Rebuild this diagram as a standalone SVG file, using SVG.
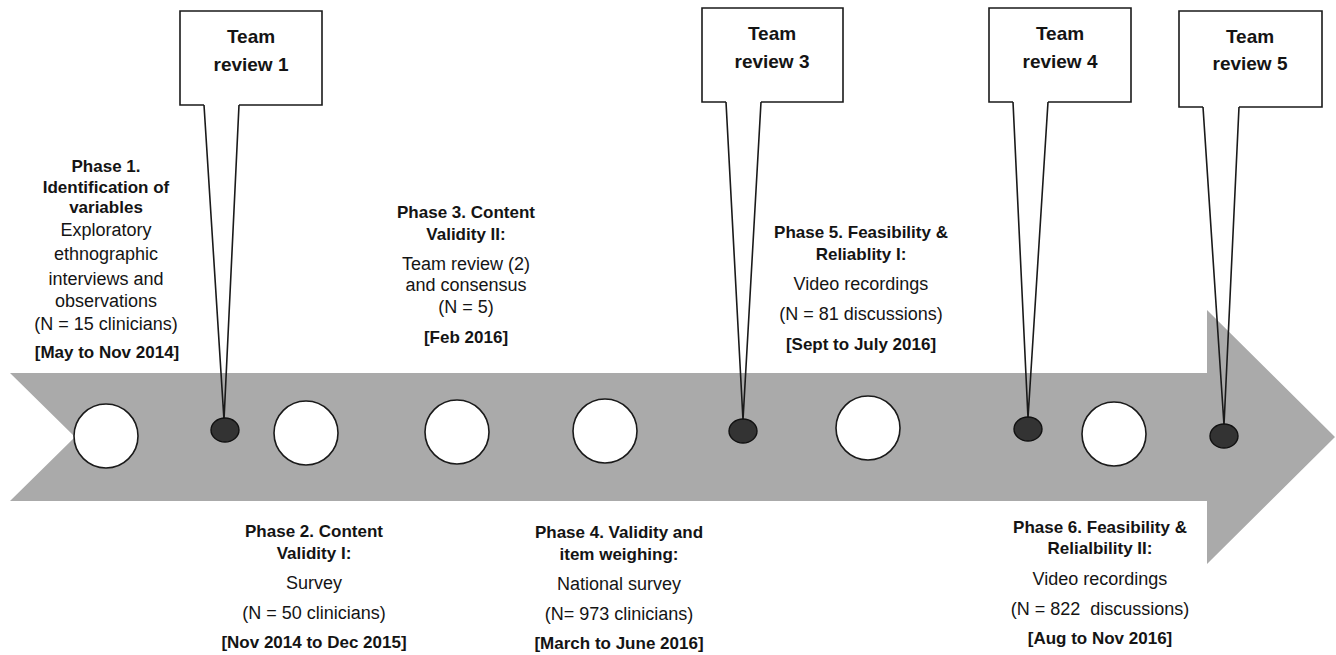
<svg xmlns="http://www.w3.org/2000/svg" width="1336" height="655" viewBox="0 0 1336 655">
<style>
.b{font-family:"Liberation Sans",Arial,sans-serif;font-weight:bold;font-size:17px;fill:#141414;text-anchor:middle}
.r{font-family:"Liberation Sans",Arial,sans-serif;font-size:18px;fill:#141414;text-anchor:middle}
.t{font-family:"Liberation Sans",Arial,sans-serif;font-weight:bold;font-size:19px;fill:#141414;text-anchor:middle}
.box{fill:#fff;stroke:#1a1a1a;stroke-width:1.6}
.tail{fill:none;stroke:#1a1a1a;stroke-width:1.6;stroke-linejoin:miter}
.wc{fill:#fff;stroke:#1a1a1a;stroke-width:1.6}
.dot{fill:#333;stroke:#111;stroke-width:1.4}
</style>
<rect width="1336" height="655" fill="#fff"/>
<g id="timeline-arrow">
<polygon points="10,373 1207,373 1207,310 1335,437 1207,564 1207,501 10,501 75,437" fill="#aaaaaa"/>
</g>
<g id="phase-circles">
<circle cx="106" cy="436" r="32" class="wc"/>
<circle cx="306" cy="433" r="32" class="wc"/>
<circle cx="457" cy="432" r="32" class="wc"/>
<circle cx="605" cy="431" r="32" class="wc"/>
<circle cx="868" cy="428" r="32" class="wc"/>
<circle cx="1114" cy="434" r="32" class="wc"/>
</g>
<g id="connectors">
<polyline class="tail" points="204,105 224,420 239,105"/>
<polyline class="tail" points="726,102 743,420 761,102"/>
<polyline class="tail" points="1013,102 1028,418 1048,102"/>
<polyline class="tail" points="1203,107 1224,425 1239,107"/>
</g>
<g id="team-review-1">
<path class="box" d="M204,105 H180 V11 H322 V105 H239"/>
<text class="t" x="251" y="43">Team</text>
<text class="t" x="251" y="71">review 1</text>
<ellipse class="dot" cx="225" cy="430" rx="14" ry="12"/>
</g>
<g id="team-review-3">
<path class="box" d="M726,102 H702 V8 H843 V102 H761"/>
<text class="t" x="772" y="40">Team</text>
<text class="t" x="772" y="68">review 3</text>
<ellipse class="dot" cx="743" cy="431" rx="14" ry="12"/>
</g>
<g id="team-review-4">
<path class="box" d="M1013,102 H989 V8 H1131 V102 H1048"/>
<text class="t" x="1060" y="40">Team</text>
<text class="t" x="1060" y="68">review 4</text>
<ellipse class="dot" cx="1028" cy="429" rx="14" ry="12"/>
</g>
<g id="team-review-5">
<path class="box" d="M1203,107 H1179 V11 H1322 V107 H1239"/>
<text class="t" x="1250" y="43">Team</text>
<text class="t" x="1250" y="70">review 5</text>
<ellipse class="dot" cx="1224" cy="436" rx="14" ry="12"/>
</g>
<g id="phase-1">
<text class="b" x="106" y="172">Phase 1.</text>
<text class="b" x="106" y="193">Identification of</text>
<text class="b" x="106" y="213">variables</text>
<text class="r" x="106" y="236">Exploratory</text>
<text class="r" x="106" y="260">ethnographic</text>
<text class="r" x="106" y="285">interviews and</text>
<text class="r" x="106" y="307">observations</text>
<text class="r" x="106" y="330">(N = 15 clinicians)</text>
<text class="b" x="107" y="358">[May to Nov 2014]</text>
</g>
<g id="phase-2">
<text class="b" x="314" y="537">Phase 2. Content</text>
<text class="b" x="314" y="559">Validity I:</text>
<text class="r" x="314" y="589">Survey</text>
<text class="r" x="314" y="619">(N = 50 clinicians)</text>
<text class="b" x="314" y="648">[Nov 2014 to Dec 2015]</text>
</g>
<g id="phase-3">
<text class="b" x="466" y="218">Phase 3. Content</text>
<text class="b" x="466" y="240">Validity II:</text>
<text class="r" x="466" y="270">Team review (2)</text>
<text class="r" x="466" y="291">and consensus</text>
<text class="r" x="466" y="313">(N = 5)</text>
<text class="b" x="466" y="343">[Feb 2016]</text>
</g>
<g id="phase-4">
<text class="b" x="619" y="538">Phase 4. Validity and</text>
<text class="b" x="619" y="560">item weighing:</text>
<text class="r" x="619" y="590">National survey</text>
<text class="r" x="619" y="620">(N= 973 clinicians)</text>
<text class="b" x="619" y="649">[March to June 2016]</text>
</g>
<g id="phase-5">
<text class="b" x="861" y="238">Phase 5. Feasibility &amp;</text>
<text class="b" x="861" y="260">Reliablity I:</text>
<text class="r" x="861" y="290">Video recordings</text>
<text class="r" x="861" y="320">(N = 81 discussions)</text>
<text class="b" x="861" y="350">[Sept to July 2016]</text>
</g>
<g id="phase-6">
<text class="b" x="1100" y="533">Phase 6. Feasibility &amp;</text>
<text class="b" x="1100" y="554">Relialbility II:</text>
<text class="r" x="1100" y="585">Video recordings</text>
<text class="r" x="1100" y="615" xml:space="preserve">(N = 822  discussions)</text>
<text class="b" x="1100" y="644">[Aug to Nov 2016]</text>
</g>
</svg>
